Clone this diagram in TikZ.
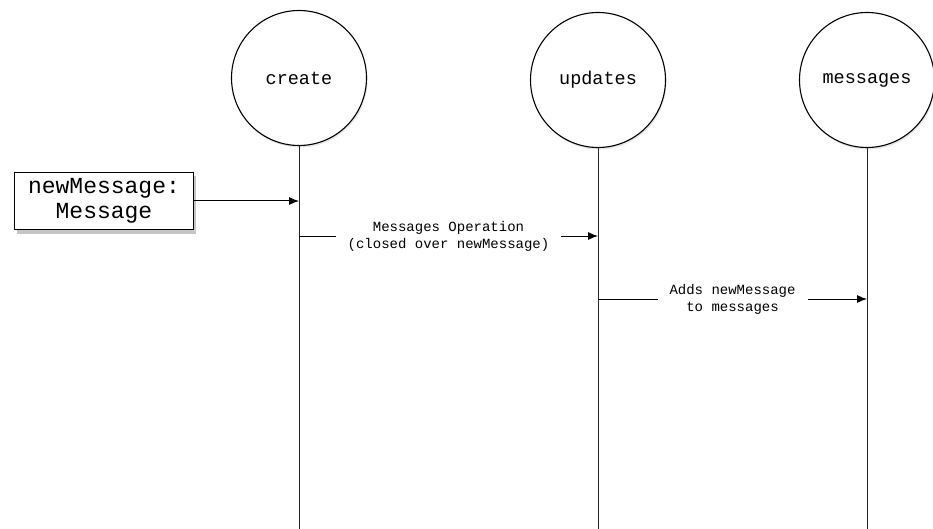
\documentclass[tikz,border=0pt]{standalone}
\usepackage{fontspec}
\setmonofont{Liberation Mono}
\usetikzlibrary{arrows.meta,positioning,shadows}

\begin{document}
\begin{tikzpicture}[
  x=1pt,y=-1pt,
  font=\ttfamily,
  actor/.style={circle,draw=black,line width=1.1pt,fill=white,
                minimum size=135pt,inner sep=0pt,
                font=\ttfamily\fontsize{18.5}{22}\selectfont,
                drop shadow={opacity=0.2,shadow xshift=1pt,shadow yshift=-2pt}},
  param/.style={draw=black,line width=1pt,fill=white,align=center,
                minimum width=179pt,minimum height=57pt,inner sep=2pt,
                font=\ttfamily\fontsize{23}{25}\selectfont,
                drop shadow={opacity=0.45,shadow xshift=2pt,shadow yshift=-4pt}},
  lifeline/.style={draw=black!85,line width=0.9pt},
  msg/.style={-{Latex[length=10pt,width=8pt]},line width=1pt,draw=black},
  lbl/.style={fill=white,align=center,inner xsep=12pt,inner ysep=1pt,
              font=\ttfamily\fontsize{14}{17}\selectfont},
]
\useasboundingbox (0,0) rectangle (933,529);

% the three actors and their lifelines
\node[actor] (create) at (299,78) {create};
\node[actor] (updates) at (598,80) {updates};
\node[actor] (messages) at (867,80) {messages};

\coordinate (bottom) at (0,529);
\draw[lifeline] (create.south) -- (create |- bottom);
\draw[lifeline] (updates.south) -- (updates |- bottom);
\draw[lifeline] (messages.south) -- (messages |- bottom);

% the incoming parameter
\node[param] (newmsg) at (104,201) {newMessage:\\Message};
\draw[msg] (newmsg.east) -- (newmsg.east -| create);

% messages passed along
\coordinate (op) at (0,236);
\coordinate (add) at (0,299);
\draw[msg] (create |- op) -- node[lbl] {Messages Operation\\(closed over newMessage)} (updates |- op);
\draw[msg] (updates |- add) -- node[lbl] {Adds newMessage\\to messages} (messages |- add);

\end{tikzpicture}
\end{document}
